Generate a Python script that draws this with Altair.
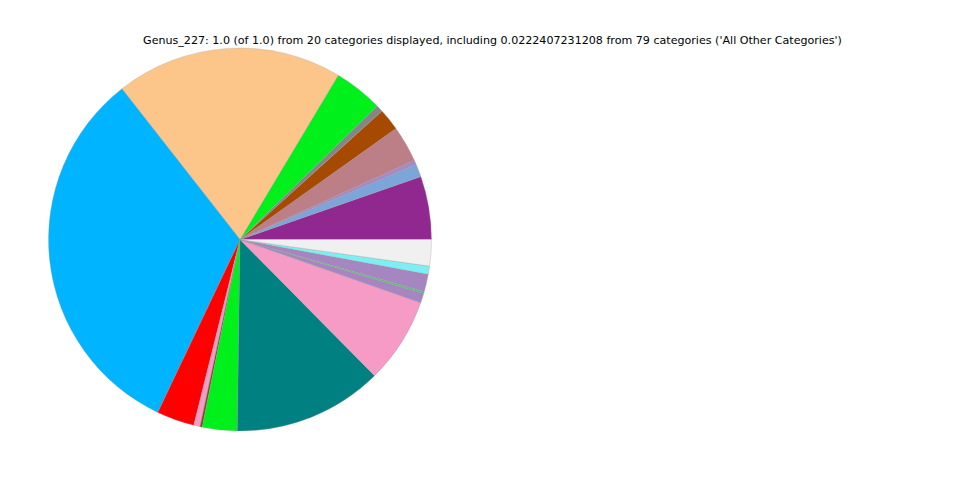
import math
import altair as alt
import pandas as pd

categories = [f"Category {i:02d}" for i in range(1, 20)] + ["All Other Categories"]
values = [0.0533, 0.0108, 0.0039, 0.0306, 0.0186, 0.0058, 0.0414, 0.1917,
          0.3239, 0.0319, 0.0053, 0.0019, 0.0294, 0.1264, 0.0725, 0.0081,
          0.0017, 0.0147, 0.0069, 0.0222]
colors = ["#912890", "#7AA6DA", "#A48AC6", "#BC7F88", "#A54A00", "#858585",
          "#00F01C", "#FCC58A", "#00B4FF", "#FF0000", "#F59BC5", "#7F4B1E",
          "#00F01C", "#008080", "#F59BC5", "#A686C0", "#5EBE7E", "#A686C0",
          "#7DEEF2", "#F0F0F0"]
title_text = ("Genus_227: 1.0 (of 1.0) from 20 categories displayed, including "
              "0.0222407231208 from 79 categories ('All Other Categories')")

df = pd.DataFrame({"category": categories, "value": values,
                   "idx": list(range(len(values)))})

pie = alt.Chart(df).mark_arc(radius=191.5, stroke="#999999", strokeWidth=0.3).encode(
    theta=alt.Theta("value:Q", stack=True,
                    scale=alt.Scale(range=[math.pi / 2, math.pi / 2 + 2 * math.pi])),
    order=alt.Order("idx:Q", sort="descending"),
    color=alt.Color("category:N", scale=alt.Scale(domain=categories, range=colors),
                    legend=None),
    x=alt.value(232),
    y=alt.value(231.5),
)

title = alt.Chart(pd.DataFrame({"t": [title_text]})).mark_text(
    font="DejaVu Sans", fontSize=11.1, align="center", baseline="alphabetic", color="black"
).encode(
    text="t:N",
    x=alt.value(484.5),
    y=alt.value(35.5),
)

chart = alt.layer(pie, title).properties(
    width=944, height=464, autosize="none", padding=0
).configure_view(stroke=None)

chart.save("out.html", embed_options={"renderer": "svg", "actions": False})
